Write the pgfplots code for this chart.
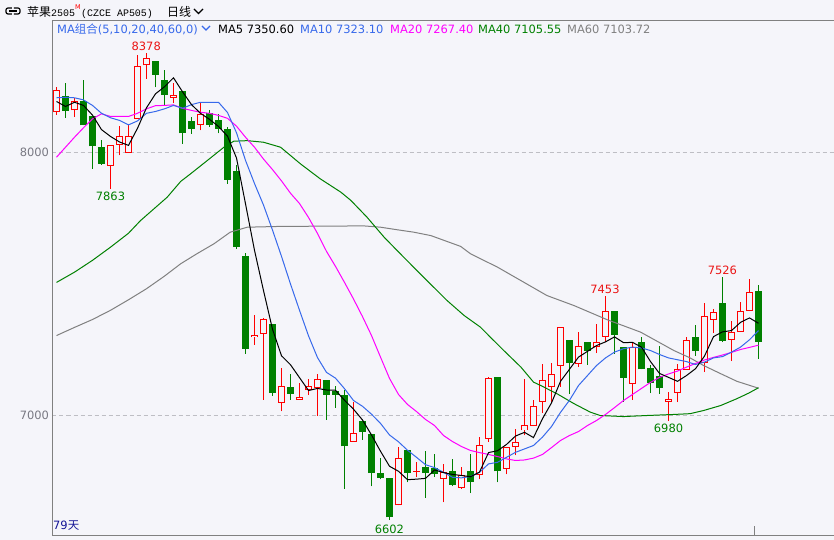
\documentclass[border=0pt]{standalone}
\usepackage{fontspec}
\setmainfont{DejaVu Sans}
\newfontfamily\cjk{Noto Sans CJK SC}
\newfontfamily\mono{Liberation Mono}
\usepackage{pgfplots}
\usepackage{pgfplotstable}
\pgfplotsset{compat=1.18}

\definecolor{bg}{RGB}{245,245,250}
\definecolor{upred}{RGB}{255,0,0}
\definecolor{dngreen}{RGB}{0,128,0}
\definecolor{maten}{RGB}{55,105,235}
\definecolor{matwenty}{RGB}{255,0,255}
\definecolor{maforty}{RGB}{0,128,0}
\definecolor{masixty}{RGB}{128,128,128}
\definecolor{axgray}{RGB}{128,128,128}
\definecolor{gridgray}{RGB}{190,190,196}
\definecolor{lblgray}{RGB}{120,120,130}
\definecolor{navy}{RGB}{20,20,150}
\definecolor{valred}{RGB}{235,20,20}
\definecolor{valgreen}{RGB}{0,128,0}

% candles: index open high low close
\pgfplotstableread{
i o h l c
0 8153 8248 8144 8236
2 8160 8208 8134 8195
6 7948 8029 7863 8029
7 8029 8099 7989 8062
8 7999 8103 7999 8062
9 8128 8370 8128 8328
10 8331 8378 8280 8360
13 8208 8263 8187 8219
16 8105 8187 8084 8147
22 7298 7384 7269 7307
23 7311 7372 7060 7368
25 7048 7181 7016 7114
27 7060 7123 7060 7070
28 7098 7137 7079 7111
29 7104 7156 7000 7138
33 6901 7051 6901 6933
38 6658 6882 6658 6839
40 6786 6822 6765 6790
43 6759 6814 6670 6784
45 6725 6806 6721 6775
47 6775 6920 6757 6889
48 6912 7148 6899 7143
50 6797 6882 6776 6882
51 6880 6949 6848 6899
52 6943 7140 6924 6965
53 6960 7060 6960 7035
54 7053 7197 7009 7136
55 7110 7199 7053 7156
56 7190 7338 7110 7338
58 7197 7317 7184 7264
60 7260 7349 7237 7281
61 7300 7453 7279 7399
64 7121 7275 7060 7260
68 7053 7089 6980 7064
69 7085 7197 7051 7178
70 7174 7300 7174 7288
72 7199 7427 7165 7380
73 7364 7406 7313 7392
75 7288 7361 7207 7316
76 7317 7431 7317 7398
77 7397 7520 7397 7470
}\up

\pgfplotstableread{
i o h l c
1 8213 8263 8132 8157
3 8194 8274 8103 8103
4 8137 8137 7938 8023
5 8020 8046 7954 7957
11 8346 8346 8248 8295
12 8274 8312 8179 8219
14 8232 8232 8033 8073
15 8118 8134 8071 8090
17 8149 8160 8096 8105
18 8124 8147 8073 8090
19 8090 8096 7881 7897
20 7929 7954 7634 7640
21 7608 7617 7235 7254
24 7349 7349 7076 7085
26 7110 7159 7060 7083
30 7136 7136 6984 7079
31 7092 7114 7029 7079
32 7079 7098 6721 6883
34 6981 6981 6908 6937
35 6931 6931 6731 6781
36 6782 6839 6757 6763
37 6763 6763 6602 6613
39 6870 6870 6746 6781
41 6806 6864 6687 6781
42 6801 6852 6766 6776
44 6788 6835 6731 6737
46 6788 6852 6705 6746
49 7148 7148 6746 6788
57 7288 7288 7083 7199
59 7281 7281 7193 7247
62 7399 7399 7235 7307
63 7262 7262 7053 7143
65 7281 7300 7175 7175
66 7180 7193 7085 7124
67 7152 7266 7083 7104
71 7300 7346 7228 7245
74 7427 7526 7279 7285
78 7472 7498 7216 7279
}\dn

\newcommand\lbl{\fontsize{11.5}{13}\selectfont}
\pgfplotsset{
  candle/.style={forget plot, only marks, mark=*, mark size=0pt,
    mark options={draw opacity=0, fill opacity=0}},
}

\begin{document}
\begin{tikzpicture}[x=1bp,y=1bp]
\fill[bg] (-300,-300) rectangle (1300,900);
\begin{axis}[
    name=ax,
    at={(0,0)}, anchor=south west,
    scale only axis,
    width=782bp, height=515bp,
    xmin=-0.4444, xmax=86.444,
    ymin=6543.8, ymax=8501.9,
    axis lines*=left,
    axis line style={axgray, line width=1bp},
    x axis line style={-}, y axis line style={-},
    xtick=\empty,
    ytick={7000,8000},
    major tick length=0pt,
    ymajorgrids,
    grid style={gridgray, dash pattern=on 4bp off 3bp, line width=1bp},
    yticklabel style={font=\lbl, text=lblgray},
    /pgf/number format/assume math mode=true,
    /pgf/number format/1000 sep={},
    clip=false,
]
\coordinate (O) at (axis cs:-0.4444,6543.8);
% down candles: wick then filled body
\addplot[candle,
    error bars/.cd, y dir=plus, y explicit, error mark=none,
    error bar style={line width=1bp, dngreen}]
    table[x=i, y=l, y error plus expr={\thisrow{h}-\thisrow{l}}] {\dn};
\addplot[candle,
    error bars/.cd, y dir=plus, y explicit, error mark=none,
    error bar style={line width=7bp, dngreen}]
    table[x=i, y=c, y error plus expr={\thisrow{o}-\thisrow{c}}] {\dn};
% up candles: wick, red body, hollow inside
\addplot[candle,
    error bars/.cd, y dir=plus, y explicit, error mark=none,
    error bar style={line width=1bp, upred}]
    table[x=i, y=l, y error plus expr={\thisrow{h}-\thisrow{l}}] {\up};
\addplot[candle,
    error bars/.cd, y dir=plus, y explicit, error mark=none,
    error bar style={line width=7bp, upred}]
    table[x=i, y=o, y error plus expr={\thisrow{c}-\thisrow{o}}] {\up};
\addplot[candle,
    error bars/.cd, y dir=plus, y explicit, error mark=none,
    error bar style={line width=5bp, bg}]
    table[x=i, y expr={\thisrow{o}+3.8},
          y error plus expr={max(\thisrow{c}-\thisrow{o}-7.6,0)}] {\up};

% MA60
\addplot[masixty, line width=1bp, mark=none] coordinates {
(0,7304) (2,7335) (4,7365) (6,7400) (8,7440) (10,7482) (12,7530) (13.8,7577)
(15.6,7615) (17.5,7653) (19.3,7697) (21.2,7716) (24.9,7719) (30.4,7720)
(34.1,7721) (36,7716) (37.9,7706) (39.7,7697) (41.6,7684) (44.9,7643)
(46,7615) (49,7564) (51.6,7513) (54.5,7456) (57.5,7418) (61.2,7364)
(64.9,7317) (68.6,7247) (70.4,7219) (71.9,7190) (73.8,7159) (75.6,7130)
(78,7103.72)};
% MA40
\addplot[maforty, line width=1bp, mark=none] coordinates {
(0,7506) (2,7545) (4,7590) (6,7640) (8,7693) (9.33,7741) (12.3,7830)
(13.8,7890) (14.9,7919) (16.7,7968) (18.6,8020) (19.7,8043) (21.2,8045)
(23,8039) (24.9,8020) (27.1,7957) (29.3,7900) (31.6,7849) (32.7,7818)
(34.5,7754) (36.4,7678) (38.2,7615) (40.4,7539) (43.4,7437) (45.3,7380)
(47.1,7336) (48.2,7298) (49.7,7247) (51.6,7184) (53,7127) (53.8,7114)
(55.6,7083) (57.5,7045) (59.3,7013) (60.4,7000) (63,6996) (65.6,7000)
(68.6,7004) (70.4,7007) (71.9,7019) (73.8,7038) (75.6,7064) (76.9,7085)
(78,7105.55)};
% MA20
\addplot[matwenty, line width=1bp, mark=none] coordinates {
(0,7982) (1,8020) (2,8058) (3,8094) (4,8128) (5,8147) (6,8137) (7,8137)
(8,8137) (9,8149) (10,8166) (11,8178) (12,8179) (13,8181) (14,8168)
(15,8160) (16,8153) (17,8149) (18,8141) (19,8130) (20,8100) (21,8058)
(22,8020) (23,7975) (24,7935) (25,7892) (26,7845) (27,7806) (28,7753)
(29,7692) (30,7624) (31,7567) (32,7506) (33,7443) (34,7376) (35,7304)
(36,7222) (37,7141) (38,7080) (39,7042) (40,7015) (41,6985) (42,6962)
(43,6924) (44,6901) (45,6882) (46,6867) (47,6859) (48,6852) (49,6844)
(50,6835) (51,6829) (52,6831) (53,6838) (54,6852) (55,6878) (56,6905)
(57,6924) (58,6939) (59,6962) (60,6981) (61,7004) (62,7030) (63,7057)
(64,7080) (65,7103) (66,7126) (67,7145) (68,7158) (69,7169) (70,7184)
(71,7198) (72,7211) (73,7221) (74,7230) (75,7240) (76,7251) (77,7259)
(78,7267.4)};
% MA10
\addplot[maten, line width=1bp, mark=none] coordinates {
(0,8208) (1,8210) (2,8208) (3,8200) (4,8179) (5,8149) (6,8132) (7,8122)
(8,8105) (9,8120) (10,8149) (11,8156) (12,8166) (13,8179) (14,8168)
(15,8182) (16,8191) (17,8191) (18,8191) (19,8152) (20,8075) (21,7970)
(22,7882) (23,7800) (24,7705) (25,7605) (26,7500) (27,7400) (28,7303)
(29,7220) (30,7164) (31,7142) (32,7102) (33,7057) (34,7035) (35,7005)
(36,6970) (37,6926) (38,6900) (39,6868) (40,6841) (41,6813) (42,6802)
(43,6784) (44,6765) (45,6763) (46,6768) (47,6784) (48,6816) (49,6822)
(50,6841) (51,6860) (52,6873) (53,6886) (54,6918) (55,6958) (56,7012)
(57,7058) (58,7114) (59,7152) (60,7190) (61,7219) (62,7241) (63,7254)
(64,7260) (65,7257) (66,7247) (67,7232) (68,7219) (69,7212) (70,7205)
(71,7194) (72,7203) (73,7219) (74,7224) (75,7241) (76,7260) (77,7288)
(78,7323.1)};
% MA5
\addplot[black, line width=1bp, mark=none] coordinates {
(0,8194) (1,8175) (2,8191) (3,8179) (4,8142) (5,8087) (6,8061) (7,8040)
(8,8027) (9,8092) (10,8170) (11,8223) (12,8250) (13,8284) (14,8231)
(15,8182) (16,8149) (17,8126) (18,8099) (19,8062) (20,7979) (21,7805)
(22,7628) (23,7475) (24,7328) (25,7227) (26,7193) (27,7144) (28,7095)
(29,7103) (30,7097) (31,7096) (32,7058) (33,7024) (34,6983) (35,6926)
(36,6864) (37,6807) (38,6788) (39,6756) (40,6758) (41,6761) (42,6793)
(43,6783) (44,6776) (45,6772) (46,6767) (47,6785) (48,6859) (49,6866)
(50,6890) (51,6922) (52,6936) (53,6916) (54,6988) (55,7048) (56,7130)
(57,7176) (58,7222) (59,7244) (60,7266) (61,7280) (62,7299) (63,7277)
(64,7278) (65,7260) (66,7205) (67,7160) (68,7145) (69,7130) (70,7152)
(71,7178) (72,7226) (73,7300) (74,7318) (75,7323) (76,7354) (77,7371)
(78,7350.6)};

% high / low marks
\node[font=\lbl, text=valred] at (axis cs:9.97,8405) {8378};
\node[font=\lbl, text=valgreen] at (axis cs:6,7832) {7863};
\node[font=\lbl, text=valred] at (axis cs:60.94,7480) {7453};
\node[font=\lbl, text=valred] at (axis cs:73.98,7553) {7526};
\node[font=\lbl, text=valgreen] at (axis cs:36.98,6569) {6602};
\node[font=\lbl, text=valgreen] at (axis cs:68,6950) {6980};
\end{axis}

% everything else in page coordinates (origin = page lower left)
\begin{scope}[shift={(O)}, shift={(-52.5,-4.5)}]
\draw[axgray, line width=1bp] (52,519.5) -- (834,519.5);
\begin{scope}[line width=1.2bp]
\draw[rounded corners=2bp] (12,532) -- (6,532) -- (6,526) -- (12,526);
\draw[rounded corners=2bp] (14,532) -- (20,532) -- (20,526) -- (14,526);
\draw (9,529) -- (17,529);
\end{scope}
\node[anchor=base west, inner sep=0] at (27,523.5) {\cjk\fontsize{12}{14}\selectfont 苹果};
\node[anchor=base west, inner sep=0] at (51,523.5) {\mono\fontsize{10}{12}\selectfont 2505};
\node[anchor=base west, inner sep=0, text=upred] at (75,530) {\fontsize{6.5}{8}\selectfont M};
\node[anchor=base west, inner sep=0] at (81,523.5) {\mono\fontsize{10}{12}\selectfont (CZCE AP505)};
\node[anchor=base west, inner sep=0] at (167,523.5) {\cjk\fontsize{12}{14}\selectfont 日线};
\draw[line width=1.2bp] (194,531) -- (198.5,526.5) -- (203,531);

\node[anchor=base west, inner sep=0, text=maten] at (57,506.7) {\lbl MA{\cjk 组合}(5,10,20,40,60,0)};
\draw[maten, line width=1.1bp] (202,514) -- (206,510) -- (210,514);
\node[anchor=base west, inner sep=0, text=black] at (218,506.7) {\lbl MA5 7350.60};
\node[anchor=base west, inner sep=0, text=maten] at (300,506.7) {\lbl MA10 7323.10};
\node[anchor=base west, inner sep=0, text=matwenty] at (390,506.7) {\lbl MA20 7267.40};
\node[anchor=base west, inner sep=0, text=maforty] at (478,506.7) {\lbl MA40 7105.55};
\node[anchor=base west, inner sep=0, text=masixty] at (567,506.7) {\lbl MA60 7103.72};

\node[anchor=west, inner sep=0, text=navy] at (53,14) {\lbl 79{\cjk 天}};
\draw[axgray, line width=1bp] (754.5,5) -- (754.5,14);
\end{scope}

\pgfresetboundingbox
\path[use as bounding box] ([shift={(-52.5,-4.5)}]O) rectangle ([shift={(781.5,535.5)}]O);
\end{tikzpicture}
\end{document}
